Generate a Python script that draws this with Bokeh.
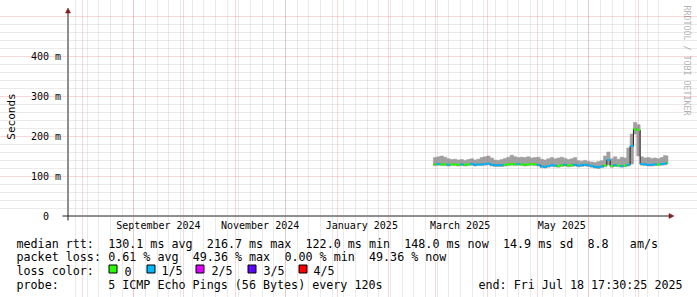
import math
import pandas as pd
from bokeh.plotting import figure
from bokeh.models import Range1d, FixedTicker, ColumnDataSource, LinearAxis, Grid
from bokeh.core.properties import value
from bokeh.embed import file_html
from bokeh.resources import INLINE

MONO = "DejaVu Sans Mono"

# ---------------- data ----------------
graph_start = "2024-07-23 17:30:25"
graph_end = "2025-07-18 17:30:25"
data_start = "2025-02-28"          # samples every 2 days

median_ms = [129, 130, 129, 129, 128, 129, 129, 128, 129, 128,
             129, 130, 128, 129, 129, 130, 131, 128, 127, 127,
             127, 128, 129, 130, 129, 130, 129, 128, 129, 130,
             129, 128, 124, 123, 125, 127, 126, 125, 127, 128,
             126, 127, 128, 126, 127, 128, 127, 125, 123, 122,
             124, 126, 140, 125, 127, 126, 125, 126, 128, 175,
             217, 215, 130, 129, 128, 128, 129, 129, 130, 131,
             133]
smoke_top_ms = [146, 148, 150, 147, 143, 141, 142, 140, 141, 139,
                141, 143, 140, 142, 146, 148, 150, 145, 140, 139,
                141, 144, 147, 152, 148, 146, 147, 146, 148, 145,
                146, 147, 142, 140, 143, 146, 143, 145, 147, 144,
                141, 143, 146, 138, 137, 139, 136, 135, 134, 136,
                138, 150, 160, 143, 148, 142, 147, 145, 170, 205,
                234, 228, 148, 145, 146, 144, 145, 143, 146, 151,
                150]
smoke_low_ms = [126, 127, 126, 126, 125, 126, 126, 125, 126, 125,
                126, 127, 125, 126, 126, 127, 128, 125, 124, 124,
                124, 125, 126, 127, 126, 127, 126, 125, 126, 127,
                126, 125, 121, 120, 122, 124, 123, 122, 124, 125,
                123, 124, 125, 123, 124, 125, 124, 122, 120, 119,
                121, 123, 128, 122, 124, 123, 122, 123, 125, 130,
                205, 150, 127, 126, 125, 125, 126, 126, 127, 128,
                130]
loss = [0, 1, 0, 0, 1, 0, 0, 0, 1, 0,
        0, 1, 1, 1, 1, 1, 1, 1, 1, 1,
        1, 0, 0, 0, 0, 1, 0, 0, 0, 0,
        0, 1, 1, 1, 1, 1, 1, 0, 0, 1,
        0, 0, 1, 1, 1, 1, 1, 1, 1, 1,
        1, 0, 1, 0, 1, 0, 1, 0, 1, 1,
        0, 0, 1, 1, 1, 1, 1, 0, 1, 1,
        0]
loss_labels = ["0", "1/5", "2/5", "3/5", "4/5"]
loss_colors = ["#26ff00", "#00b8ff", "#dd00ff", "#5e00ff", "#ff0000"]

y_ticks = [0, 100, 200, 300, 400]
y_tick_labels = ["0\u00a0\u00a0", "100 m", "200 m", "300 m", "400 m"]
x_label_dates = ["2024-09-16", "2024-11-16", "2025-01-16", "2025-03-16", "2025-05-16"]
x_label_texts = ["September 2024", "November 2024", "January 2025", "March 2025", "May 2025"]

legend_rows = [
    [(0, "median rtt:"), (13, "130.1 ms avg"), (27, "216.7 ms max"), (41, "122.0 ms min"),
     (55, "148.0 ms now"), (69, "14.9 ms sd"), (81, "8.8"), (87, "am/s")],
    [(0, "packet loss:"), (13, "0.61 % avg"), (25, "49.36 % max"), (38, "0.00 % min"),
     (50, "49.36 % now")],
    [(0, "loss color:")],
    [(0, "probe:"), (13, "5 ICMP Echo Pings (56 Bytes) every 120s")],
]
end_text = "end: Fri Jul 18 17:30:25 2025"
watermark = "RRDTOOL / TOBI OETIKER"


def ms(s):
    return int(pd.Timestamp(s).value // 10**6)


t_start, t_end = ms(graph_start), ms(graph_end)
times = [int(t.value // 10**6) for t in pd.date_range(data_start, periods=len(median_ms), freq="2D")]
t_next = times[1:] + [t_end]

src = ColumnDataSource(dict(
    t0=times, t1=t_next, med=median_ms, top=smoke_top_ms, low=smoke_low_ms,
    color=[loss_colors[v] for v in loss]))

# ---------------- geometry (canvas px, pixel centres) ----------------
PLOT_L, PLOT_R, PLOT_T, PLOT_B = 67.5, 667.5, 15.5, 215.5
W, H = 697, 297


def cx_to_t(cx):
    return t_start + (cx - PLOT_L) * (t_end - t_start) / (PLOT_R - PLOT_L)


def t_to_cx(t):
    return PLOT_L + (t - t_start) * (PLOT_R - PLOT_L) / (t_end - t_start)


def cy_to_v(cy):
    return (PLOT_B - cy) * 500.0 / (PLOT_B - PLOT_T)


def snap(t):
    # put a grid line on a pixel centre, as rrdtool does
    return cx_to_t(math.floor(t_to_cx(t)) + 0.5)


# the frame covers the whole canvas; axes sit at fixed locations inside it
p = figure(width=W, height=H, output_backend="svg", toolbar_location=None,
           x_range=Range1d(cx_to_t(0), cx_to_t(W)),
           y_range=Range1d(cy_to_v(H), cy_to_v(0)),
           x_axis_location=None, y_axis_location=None,
           min_border=0, min_border_left=0, min_border_right=0,
           min_border_top=0, min_border_bottom=0,
           background_fill_color="white", border_fill_color="white")
p.outline_line_color = None
for g in p.grid:
    g.visible = False

# ---- grids ----
month_starts = [snap(ms(d)) for d in pd.date_range("2024-08-01", "2025-07-01", freq="MS")]
week_starts = [snap(ms(d)) for d in pd.date_range("2024-07-28", "2025-07-13", freq="W-SUN")]
xg = Grid(dimension=0, ticker=FixedTicker(ticks=month_starts, minor_ticks=week_starts),
          bounds=(0, cy_to_v(13)))
yg = Grid(dimension=1, ticker=FixedTicker(ticks=y_ticks[1:] + [500],
                                          minor_ticks=[v for v in range(20, 500, 20) if v % 100]),
          bounds=(t_start, cx_to_t(668)))
for g in (xg, yg):
    g.grid_line_color = "#de5050"
    g.grid_line_alpha = 0.45
    g.grid_line_dash = "1 1"
    g.minor_grid_line_color = "#8f8f8f"
    g.minor_grid_line_alpha = 0.38
    g.minor_grid_line_dash = "1 1"
    g.level = "guide"
    p.add_layout(g)

# ---- data: smoke, median connector, coloured median ----
p.quad(left="t0", right="t1", bottom="low", top="top", source=src,
       fill_color="#a0a0a0", line_color="#a0a0a0", line_width=0.6)
p.step(x="t0", y="med", source=src, mode="after", line_color="#202020", line_width=1)
p.segment(x0="t0", y0="med", x1="t1", y1="med", source=src, line_color="color", line_width=2)

# ---- axes (fixed inside the canvas) ----
yax = LinearAxis(fixed_location=t_start, bounds=(0, 500),
                 ticker=FixedTicker(ticks=y_ticks, minor_ticks=[]))
yax.major_label_overrides = dict(zip(y_ticks, y_tick_labels))
yax.axis_label = "Seconds"
yax.axis_label_text_font = MONO
yax.axis_label_text_font_size = "11px"
yax.axis_label_text_font_style = "normal"
yax.axis_label_text_color = "black"
yax.axis_label_standoff = 10
yax.major_label_standoff = 7
p.add_layout(yax, "left")

xt = [ms(d) for d in x_label_dates]
xax = LinearAxis(fixed_location=0, bounds=(t_start, t_end),
                 ticker=FixedTicker(ticks=xt, minor_ticks=[]))
xax.major_label_overrides = dict(zip(xt, x_label_texts))
xax.major_label_standoff = 4
p.add_layout(xax, "below")

for ax in (xax, yax):
    ax.major_label_text_font = MONO
    ax.major_label_text_font_size = "10px"
    ax.major_label_text_color = "black"
    ax.axis_line_color = None
    ax.major_tick_line_color = None
    ax.minor_tick_line_color = None
    ax.major_tick_out = 0
    ax.major_tick_in = 0
    ax.minor_tick_out = 0
    ax.minor_tick_in = 0

# axis lines and arrow heads (rrdtool style)
p.segment(x0=[cx_to_t(62), t_start], y0=[0, cy_to_v(220)],
          x1=[cx_to_t(670), t_start], y1=[0, cy_to_v(11)],
          line_color="#1f1f1f", line_width=1)
p.patches(xs=[[cx_to_t(668.5), cx_to_t(673.5), cx_to_t(668.5)],
              [cx_to_t(65), t_start, cx_to_t(70)]],
          ys=[[cy_to_v(213), 0, cy_to_v(218)],
              [cy_to_v(12.5), cy_to_v(7.5), cy_to_v(12.5)]],
          fill_color="#7f1f1f", line_color="#7f1f1f", line_width=0.5)

# ---- watermark on the right edge ----
p.text(x=[cx_to_t(686)], y=[cy_to_v(5)], text=[watermark], angle=-math.pi / 2,
       text_font=value(MONO), text_font_size=value("8.3px"), text_color="#b4b4b4",
       text_align="left", text_baseline="middle")

# ---- legend block below the graph ----
CW = 7.05
baselines = [243.0, 256.8, 270.5, 284.2]
tx, ty, tt = [], [], []
for row, base in zip(legend_rows, baselines):
    for col, txt in row:
        tx.append(cx_to_t(16 + col * CW))
        ty.append(cy_to_v(base))
        tt.append(txt)
tx.append(cx_to_t(478)); ty.append(cy_to_v(baselines[3])); tt.append(end_text)

swatch_x = [108, 146, 195, 247, 298]
label_x = [124, 161, 211, 263, 313]
for lx, lab in zip(label_x, loss_labels):
    tx.append(cx_to_t(lx)); ty.append(cy_to_v(baselines[2])); tt.append(lab)

p.text(x=tx, y=ty, text=tt, text_font=value(MONO), text_font_size=value("11.7px"),
       text_color="black", text_align="left", text_baseline="alphabetic")
p.quad(left=[cx_to_t(s + 0.5) for s in swatch_x], right=[cx_to_t(s + 8.5) for s in swatch_x],
       top=[cy_to_v(264.5)] * 5, bottom=[cy_to_v(272.5)] * 5,
       fill_color=loss_colors, line_color="black", line_width=1)

open("out.html", "w").write(file_html(p, INLINE))
